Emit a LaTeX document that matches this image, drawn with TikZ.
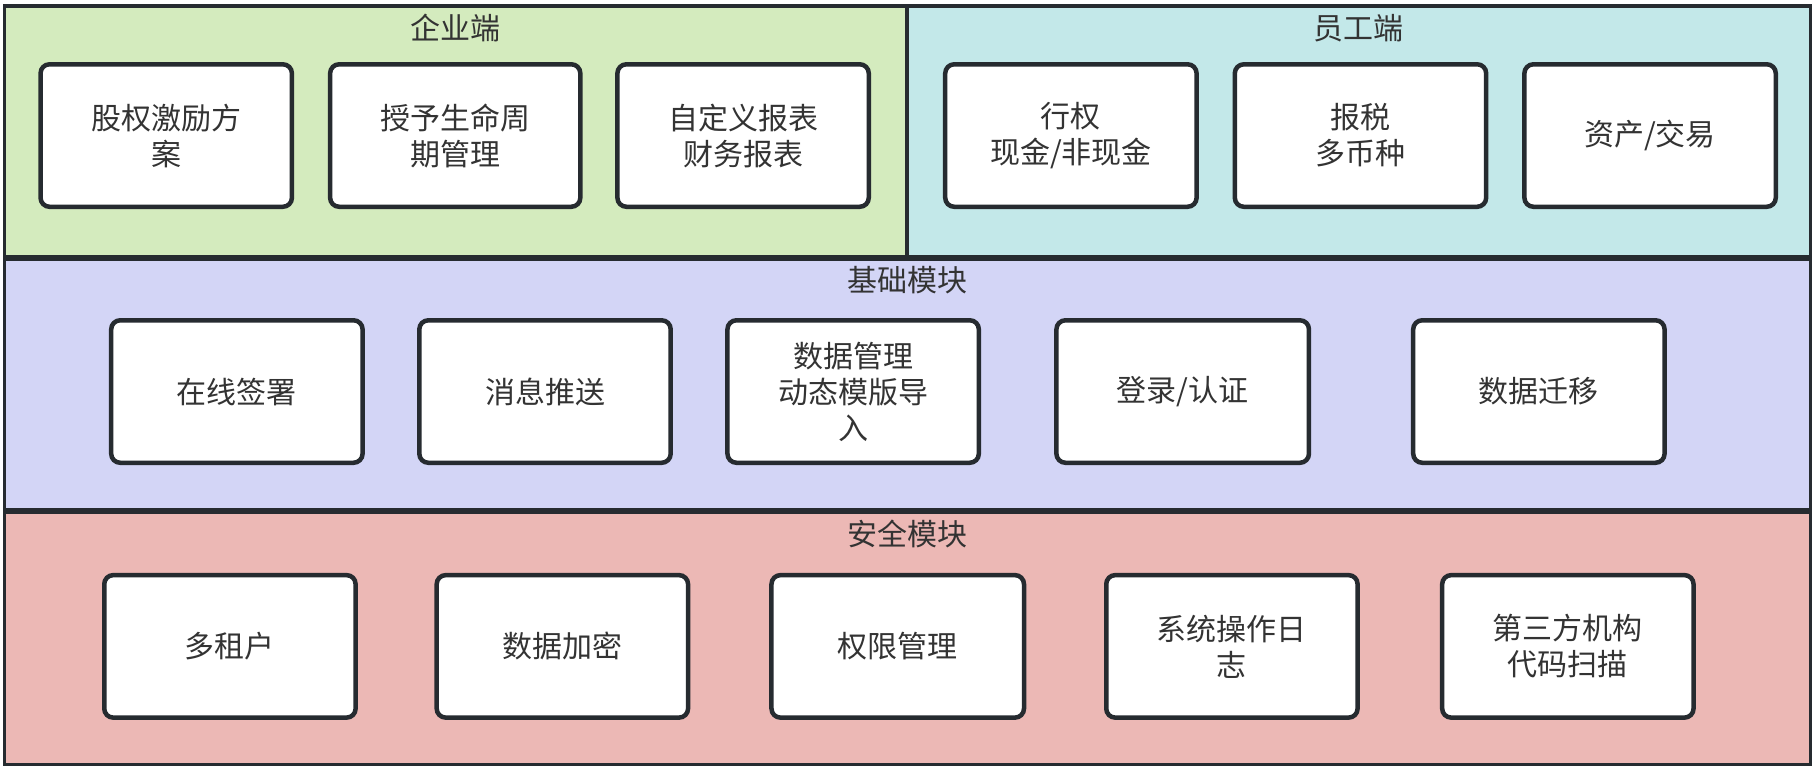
\documentclass[tikz,border=0pt]{standalone}
\usepackage{fontspec}
\setmainfont{Noto Sans CJK SC}
\begin{document}
\begin{tikzpicture}[x=1.1584pt,y=-1.1584pt,
 panel/.style={draw=lc,line width=3.5pt},
 box/.style={draw=lc,line width=4.5pt,fill=white,rounded corners=9pt,align=center,text=tc,font=\fontsize{30}{36}\selectfont,inner sep=0pt},
 ttl/.style={text=tc,font=\fontsize{30}{36}\selectfont}]
\definecolor{cg}{HTML}{D4EBBE}\definecolor{cc}{HTML}{C3E8E9}
\definecolor{cb}{HTML}{D3D5F6}\definecolor{cr}{HTML}{ECB8B5}
\definecolor{lc}{HTML}{262B30}\definecolor{tc}{HTML}{333333}
\useasboundingbox (0,0) rectangle (1566,665);
\fill[white] (0,0) rectangle (1566,665);
\draw[panel,fill=cg] (4,5) rectangle (783,222);
\draw[panel,fill=cc] (783,5) rectangle (1563,222);
\draw[panel,fill=cb] (4,224) rectangle (1563,440);
\draw[panel,fill=cr] (4,442) rectangle (1563,660);
\node[ttl] (t1) at (393,24) {企业端};
\node[ttl] (t2) at (1173,24) {员工端};
\node[ttl] (t3) at (783,242) {基础模块};
\node[ttl] (t4) at (783,461) {安全模块};
\newcommand{\bx}[5]{\node[box,minimum width={(#3-#2)*1.1584pt},minimum height={123*1.1584pt}] (#1) at ({(#2+#3)/2},#4) {#5};}
\bx{a1}{35}{252}{117}{股权激励方\\案}
\bx{a2}{285}{501}{117}{授予生命周\\期管理}
\bx{a3}{533}{750}{117}{自定义报表\\财务报表}
\bx{b1}{816}{1033}{117}{行权\\现金/非现金}
\bx{b2}{1066}{1283}{117}{报税\\多币种}
\bx{b3}{1316}{1533}{117}{资产/交易}
\bx{c1}{96}{313}{338}{在线签署}
\bx{c2}{362}{579}{338}{消息推送}
\bx{c3}{628}{845}{338}{数据管理\\动态模版导\\入}
\bx{c4}{912}{1130}{338}{登录/认证}
\bx{c5}{1220}{1437}{338}{数据迁移}
\bx{d1}{90}{307}{558}{多租户}
\bx{d2}{377}{594}{558}{数据加密}
\bx{d3}{666}{884}{558}{权限管理}
\bx{d4}{955}{1172}{558}{系统操作日\\志}
\bx{d5}{1245}{1462}{558}{第三方机构\\代码扫描}
\end{tikzpicture}
\end{document}
